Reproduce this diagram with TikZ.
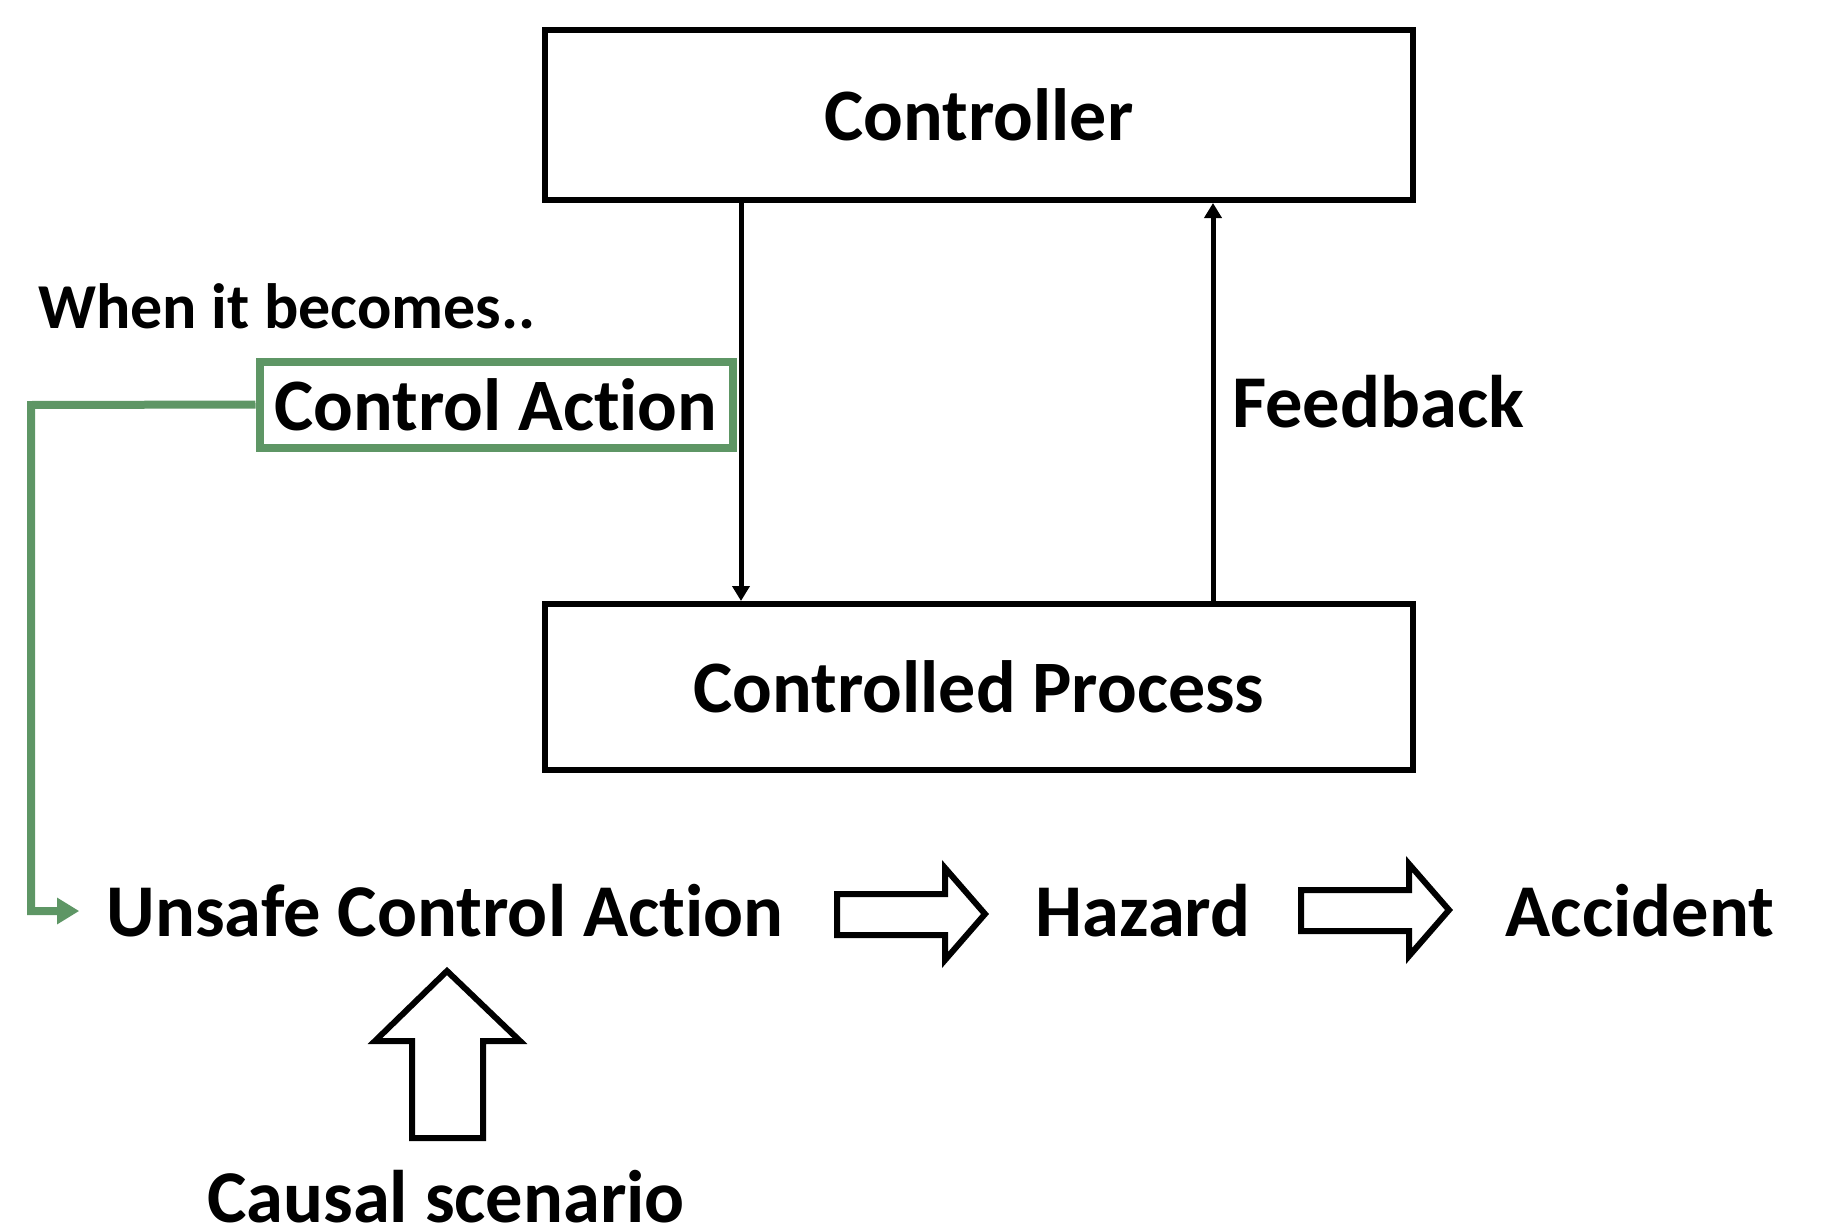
\documentclass[tikz,border=0pt]{standalone}
\usepackage{fontspec}
\setmainfont{Carlito}[RawFeature=-liga]
\usetikzlibrary{arrows.meta}
\definecolor{cagreen}{RGB}{94,150,101}
\tikzset{
  box/.style={draw=black, line width=6pt, rectangle, inner sep=0pt, font=\fontsize{74}{80}\selectfont\bfseries},
  gbox/.style={draw=cagreen, line width=8pt, rectangle, inner sep=0pt, font=\fontsize{74}{80}\selectfont\bfseries},
  lbl/.style={inner sep=0pt, font=\fontsize{74.5}{80}\selectfont\bfseries},
  slbl/.style={inner sep=0pt, font=\fontsize{64}{70}\selectfont\bfseries},
  conn/.style={draw=black, line width=5pt, -{Triangle[length=15pt,width=17pt]}},
  gconn/.style={draw=cagreen, line width=8pt, -{Triangle[length=22pt,width=25pt]}},
  blockarrow/.style={draw=black, line width=6pt, fill=white, line join=miter}
}
\begin{document}
\begin{tikzpicture}[x=1pt,y=-1pt]
\useasboundingbox (0,0) rectangle (1829,1228);
\node[box, minimum width=868pt, minimum height=170pt] (ctrl) at (979,115) {Controller};
\node[box, minimum width=868pt, minimum height=166pt] (proc) at (979,687) {Controlled Process};
\node[gbox, minimum width=473pt, minimum height=86pt] (ca) at (496,404.5) {Control Action};
\node[slbl] (when) at (287,306) {When it becomes..};
\node[lbl] (fb) at (1378,402) {Feedback};
\node[lbl] (uca) at (445,911) {Unsafe Control Action};
\node[lbl] (haz) at (1143,911) {Hazard};
\node[lbl] (acc) at (1640,911) {Accident};
\node[lbl] (cs) at (446,1197) {Causal scenario};
\coordinate (gcorner) at (31,405);
\draw[conn] (741,0 |- ctrl.south) -- (741,0 |- proc.north);
\draw[conn] (1213,0 |- proc.north) -- (1213,0 |- ctrl.south);
\draw[gconn] (ca.west) -- (gcorner) |- ([xshift=-27pt]uca.west);
\draw[blockarrow] (837,894) -- (945,894) -- (945,868) -- (985,914) -- (945,960) -- (945,935) -- (837,935) -- cycle;
\draw[blockarrow] (1301,890) -- (1409,890) -- (1409,864) -- (1449,910) -- (1409,956) -- (1409,931) -- (1301,931) -- cycle;
\draw[blockarrow] (447,971) -- (520,1041) -- (483,1041) -- (483,1138) -- (412,1138) -- (412,1041) -- (375,1041) -- cycle;
\end{tikzpicture}
\end{document}
